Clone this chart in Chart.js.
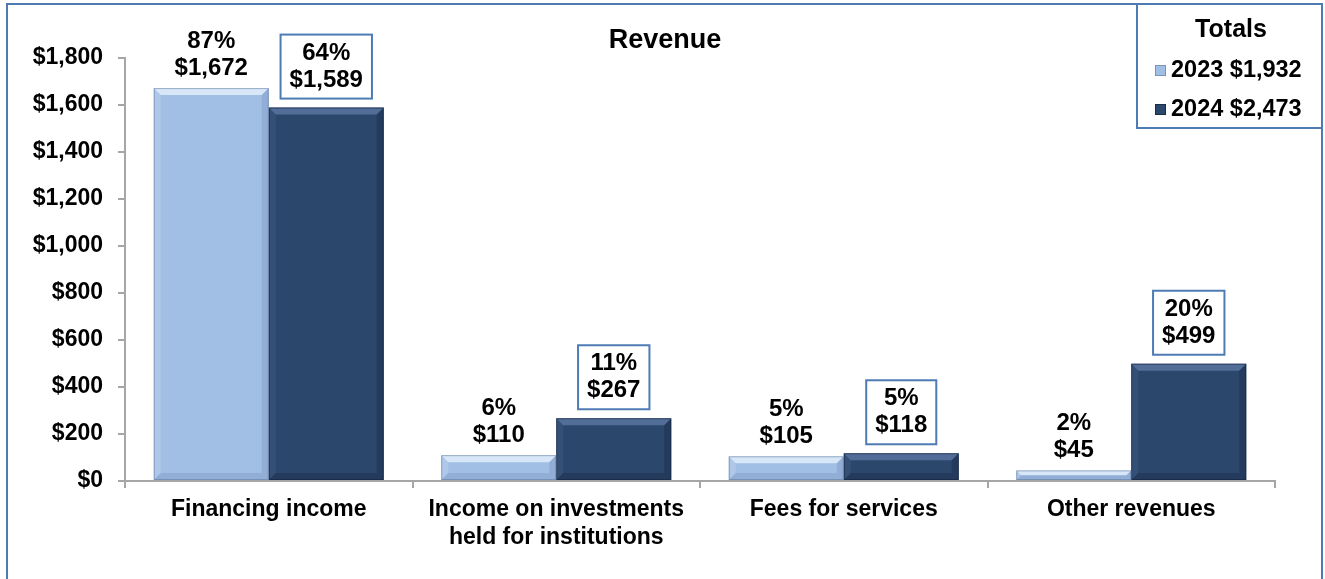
<!DOCTYPE html>
<html>
<head>
<meta charset="utf-8">
<script src="https://cdn.jsdelivr.net/npm/chart.js@4.4.1/dist/chart.umd.min.js"></script>
<style>
  html, body { margin: 0; padding: 0; background: #fff; overflow: hidden; }
  #wrap { position: relative; width: 1325px; height: 579px; }
</style>
</head>
<body>
<div id="wrap"><canvas id="revenueChart" width="1325" height="579"></canvas></div>
<script>
// --- DATA ---
const categories = [
    'Financing income',
    ['Income on investments', 'held for institutions'],
    'Fees for services',
    'Other revenues'
];
const seriesNames = ['2023', '2024'];
const values2023 = [1672, 110, 105, 45];
const values2024 = [1589, 267, 118, 499];
const pct2023 = ['87%', '6%', '5%', '2%'];
const pct2024 = ['64%', '11%', '5%', '20%'];
const totals = ['$1,932', '$2,473'];
const yTicks = [0, 200, 400, 600, 800, 1000, 1200, 1400, 1600, 1800];

const FONT = 'Arial, "Liberation Sans", sans-serif';
const LIGHT = '#a1bee4';
const DARK = '#2c476c';
const FRAME = '#4f7bb5';

const money = v => '$' + v.toLocaleString('en-US');

// --- PLUGINS ---
// outer frame + title
const framePlugin = {
    id: 'frame',
    beforeDraw(chart) {
        const ctx = chart.ctx;
        ctx.save();
        ctx.fillStyle = '#fff';
        ctx.fillRect(0, 0, chart.width, chart.height);
        ctx.strokeStyle = FRAME;
        ctx.lineWidth = 2;
        ctx.strokeRect(7, 4, 1315, 600);
        ctx.fillStyle = '#000';
        ctx.font = 'bold 27px ' + FONT;
        ctx.textAlign = 'center';
        ctx.textBaseline = 'middle';
        ctx.fillText('Revenue', 665, 41);
        ctx.restore();
    }
};

// bevelled look on bars
function shade(ctx, pts, color) {
    ctx.beginPath();
    ctx.moveTo(pts[0][0], pts[0][1]);
    for (let i = 1; i < pts.length; i++) ctx.lineTo(pts[i][0], pts[i][1]);
    ctx.closePath();
    ctx.fillStyle = color;
    ctx.fill();
}

const bevelPlugin = {
    id: 'bevel',
    afterDatasetsDraw(chart) {
        const ctx = chart.ctx;
        ctx.save();
        chart.data.datasets.forEach((ds, di) => {
            chart.getDatasetMeta(di).data.forEach(bar => {
                const l = bar.x - bar.width / 2, r = bar.x + bar.width / 2;
                const t = bar.y, b = bar.base;
                const h = b - t;
                const k = Math.min(7, h / 2);
                const light = di === 0;
                shade(ctx, [[l, t], [r, t], [r - k, t + k], [l + k, t + k]],
                    light ? 'rgba(235,244,255,0.75)' : 'rgba(120,150,195,0.5)');
                shade(ctx, [[l, t], [l + k, t + k], [l + k, b - k], [l, b]],
                    light ? 'rgba(255,255,255,0.15)' : 'rgba(90,120,165,0.2)');
                shade(ctx, [[r, t], [r, b], [r - k, b - k], [r - k, t + k]],
                    light ? 'rgba(60,90,140,0.15)' : 'rgba(10,25,50,0.25)');
                shade(ctx, [[l, b], [r, b], [r - k, b - k], [l + k, b - k]],
                    light ? 'rgba(60,90,140,0.15)' : 'rgba(10,25,50,0.25)');
                ctx.strokeStyle = light ? 'rgba(90,115,150,0.5)' : 'rgba(20,35,60,0.6)';
                ctx.lineWidth = 1;
                ctx.strokeRect(l + 0.5, t + 0.5, bar.width - 1, h - 1);
            });
        });
        ctx.restore();
    }
};

// value labels over bars, 2024 labels boxed
const labelPlugin = {
    id: 'barLabels',
    afterDraw(chart) {
        const ctx = chart.ctx;
        ctx.save();
        ctx.font = 'bold 24px ' + FONT;
        ctx.textAlign = 'center';
        ctx.textBaseline = 'middle';
        const lineH = 27;
        chart.data.datasets.forEach((ds, di) => {
            const pcts = di === 0 ? pct2023 : pct2024;
            chart.getDatasetMeta(di).data.forEach((bar, i) => {
                const lines = [pcts[i], money(ds.data[i])];
                const bottom = bar.y - 9;
                if (di === 1) {
                    const w = Math.max(...lines.map(s => ctx.measureText(s).width)) + 18;
                    const hgt = 64;
                    ctx.fillStyle = '#fff';
                    ctx.fillRect(bar.x - w / 2, bottom - hgt, w, hgt);
                    ctx.strokeStyle = FRAME;
                    ctx.lineWidth = 2;
                    ctx.strokeRect(bar.x - w / 2, bottom - hgt, w, hgt);
                    ctx.fillStyle = '#000';
                    ctx.fillText(lines[0], bar.x, bottom - hgt / 2 - lineH / 2);
                    ctx.fillText(lines[1], bar.x, bottom - hgt / 2 + lineH / 2);
                } else {
                    ctx.fillStyle = '#000';
                    ctx.fillText(lines[0], bar.x, bottom - 11 - lineH);
                    ctx.fillText(lines[1], bar.x, bottom - 11);
                }
            });
        });
        ctx.restore();
    }
};

// "Totals" legend box
const totalsPlugin = {
    id: 'totals',
    afterDraw(chart) {
        const ctx = chart.ctx;
        ctx.save();
        ctx.fillStyle = '#fff';
        ctx.fillRect(1137, 4, 185, 124);
        ctx.strokeStyle = FRAME;
        ctx.lineWidth = 2;
        ctx.strokeRect(1137, 4, 185, 124);
        ctx.fillStyle = '#000';
        ctx.font = 'bold 25px ' + FONT;
        ctx.textAlign = 'center';
        ctx.textBaseline = 'middle';
        ctx.fillText('Totals', 1231, 30);
        ctx.font = 'bold 23.5px ' + FONT;
        ctx.textAlign = 'left';
        const rows = [70, 109];
        chart.data.datasets.forEach((ds, di) => {
            const y = rows[di];
            ctx.fillStyle = ds.backgroundColor;
            ctx.fillRect(1155, y - 5, 11, 11);
            ctx.strokeStyle = di === 0 ? '#7d95b5' : '#1b2c45';
            ctx.lineWidth = 1;
            ctx.strokeRect(1155.5, y - 4.5, 10, 10);
            ctx.fillStyle = '#000';
            ctx.fillText(seriesNames[di] + ' ' + totals[di], 1171, y + 1);
        });
        ctx.restore();
    }
};

// --- CHART ---
const axisGrey = '#a6a6a6';

new Chart(document.getElementById('revenueChart'), {
    type: 'bar',
    data: {
        labels: categories,
        datasets: [
            { label: seriesNames[0], data: values2023, backgroundColor: LIGHT },
            { label: seriesNames[1], data: values2024, backgroundColor: DARK }
        ]
    },
    options: {
        responsive: false,
        animation: false,
        devicePixelRatio: 1,
        layout: { padding: { left: 0, top: 58, right: 50, bottom: 0 } },
        datasets: { bar: { categoryPercentage: 0.8, barPercentage: 1.0 } },
        plugins: {
            legend: { display: false },
            title: { display: false },
            tooltip: { enabled: false }
        },
        scales: {
            y: {
                min: 0,
                max: 1800,
                afterFit: s => { s.width = 125; },
                afterBuildTicks: s => { s.ticks = yTicks.map(v => ({ value: v })); },
                border: { display: true, color: axisGrey, width: 2 },
                grid: { drawOnChartArea: false, drawTicks: true, tickLength: 7, color: axisGrey, lineWidth: 2 },
                ticks: {
                    color: '#000',
                    padding: 15,
                    font: { family: FONT, size: 23, weight: 'bold' },
                    callback: v => money(v)
                }
            },
            x: {
                afterFit: s => { s.height = 98; },
                border: { display: true, color: axisGrey, width: 2 },
                grid: { offset: true, drawOnChartArea: false, drawTicks: true, tickLength: 7, color: axisGrey, lineWidth: 2 },
                ticks: {
                    color: '#000',
                    padding: 8,
                    maxRotation: 0,
                    font: { family: FONT, size: 23, weight: 'bold', lineHeight: 1.22 }
                }
            }
        }
    },
    plugins: [framePlugin, bevelPlugin, labelPlugin, totalsPlugin]
});
</script>
</body>
</html>
